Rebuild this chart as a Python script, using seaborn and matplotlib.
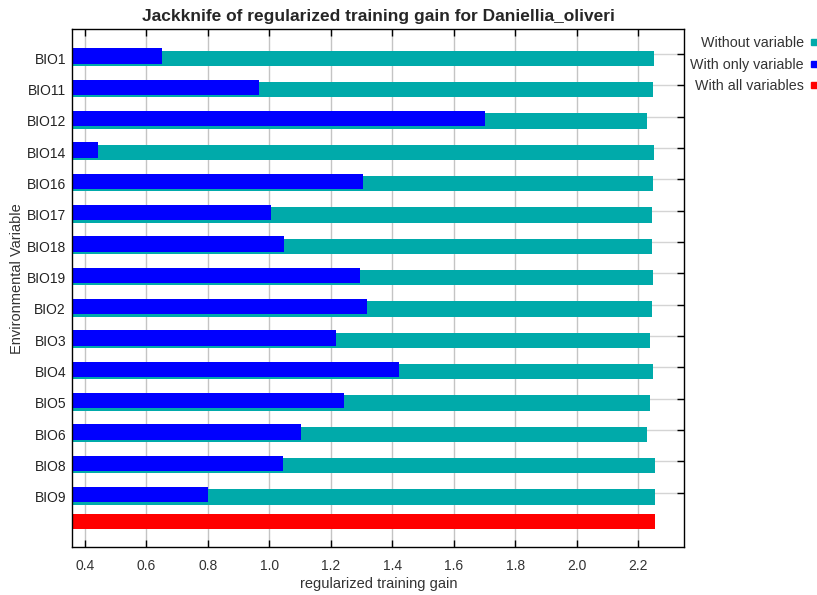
import pandas as pd
import numpy as np
import matplotlib
matplotlib.use("Agg")
import matplotlib.pyplot as plt
import seaborn as sns
from matplotlib.lines import Line2D
from matplotlib.ticker import FixedLocator

# Jackknife results read from the MaxEnt output
variables = ['BIO1', 'BIO11', 'BIO12', 'BIO14', 'BIO16', 'BIO17', 'BIO18', 'BIO19',
             'BIO2', 'BIO3', 'BIO4', 'BIO5', 'BIO6', 'BIO8', 'BIO9']
without_var = [2.251, 2.248, 2.229, 2.251, 2.248, 2.245, 2.245, 2.248,
               2.244, 2.239, 2.248, 2.239, 2.229, 2.255, 2.255]
only_var = [0.651, 0.967, 1.701, 0.443, 1.303, 1.006, 1.047, 1.295,
            1.318, 1.217, 1.421, 1.241, 1.102, 1.044, 0.799]
all_label = 'All'
all_vars = [2.255]
x_ticks = [0.4, 0.6, 0.8, 1.0, 1.2, 1.4, 1.6, 1.8, 2.0, 2.2]

teal = '#00AAAA'
blue = '#0000FF'
red = '#FF0000'

sns.set_style("white")
plt.rcParams['font.family'] = ['Liberation Sans', 'DejaVu Sans']

order = variables + [all_label]
df_without = pd.DataFrame({'var': variables, 'gain': without_var})
df_only = pd.DataFrame({'var': variables, 'gain': only_var})
df_all = pd.DataFrame({'var': [all_label], 'gain': all_vars})

fig = plt.figure(figsize=(8.17, 5.95), dpi=100)
ax = fig.add_axes([0.0885, 0.0812, 0.7491, 0.8701])

bar_h = 0.495
sns.barplot(data=df_without, x='gain', y='var', order=order, color=teal,
            saturation=1, width=bar_h, errorbar=None, ax=ax)
n0 = len(ax.patches)
sns.barplot(data=df_only, x='gain', y='var', order=order, color=blue,
            saturation=1, width=bar_h, errorbar=None, ax=ax)
n1 = len(ax.patches)
sns.barplot(data=df_all, x='gain', y='var', order=order, color=red,
            saturation=1, width=bar_h, errorbar=None, ax=ax)

# blue bars sit slightly above the teal ones, red one a bit higher still
for p in ax.patches[n0:n1]:
    p.set_y(p.get_y() - 0.075)
for p in ax.patches[n1:]:
    p.set_y(p.get_y() - 0.217)
for p in ax.patches:
    p.set_linewidth(0)
    p.set_zorder(2)

ax.set_xlim(0.3587, 2.3497)
ax.set_ylim(15.587, -0.937)

ax.set_xticks(x_ticks)
ax.set_xticklabels([f"{t:.1f}" for t in x_ticks])
ax.set_yticks(range(len(variables)))
ax.set_yticklabels(variables)
ax.yaxis.set_minor_locator(FixedLocator([i - 0.139 for i in range(len(variables))]))

ax.grid(axis='x', which='major', color='#c4c4c4', linewidth=1, zorder=0)
ax.grid(axis='y', which='minor', color='#d4d4d4', linewidth=1, zorder=0)
ax.set_axisbelow(True)

ax.tick_params(axis='x', which='major', direction='in', top=True, bottom=True,
               length=5, width=1, color='black', labelsize=10, labelcolor='#333333', pad=9)
ax.tick_params(axis='y', which='major', left=False, right=False,
               labelsize=10, labelcolor='#222222', pad=1)
ax.tick_params(axis='y', which='minor', left=False, right=True, direction='in',
               length=5, width=1, color='black')

for s in ax.spines.values():
    s.set_visible(True)
    s.set_color('black')
    s.set_linewidth(1)

ax.set_title('Jackknife of regularized training gain for Daniellia_oliveri',
             fontsize=12.5, fontweight='bold', pad=6)
ax.set_xlabel('regularized training gain', fontsize=10.5, color='#333333', labelpad=3)
ax.set_ylabel('Environmental Variable', fontsize=10.5, color='#333333')
ax.yaxis.set_label_coords(-0.079, 0.517)

handles = [Line2D([], [], marker='s', ls='', color=c, markersize=4)
           for c in (teal, blue, red)]
fig.legend(handles, ['Without variable', 'With only variable', 'With all variables'],
           loc='upper right', bbox_to_anchor=(1.01, 0.952), frameon=False,
           markerfirst=False, fontsize=10.3, labelspacing=0.5, handlelength=0.5,
           handletextpad=0.45, borderaxespad=0.15, labelcolor='#333333')

fig.savefig('out.png', dpi=100)
